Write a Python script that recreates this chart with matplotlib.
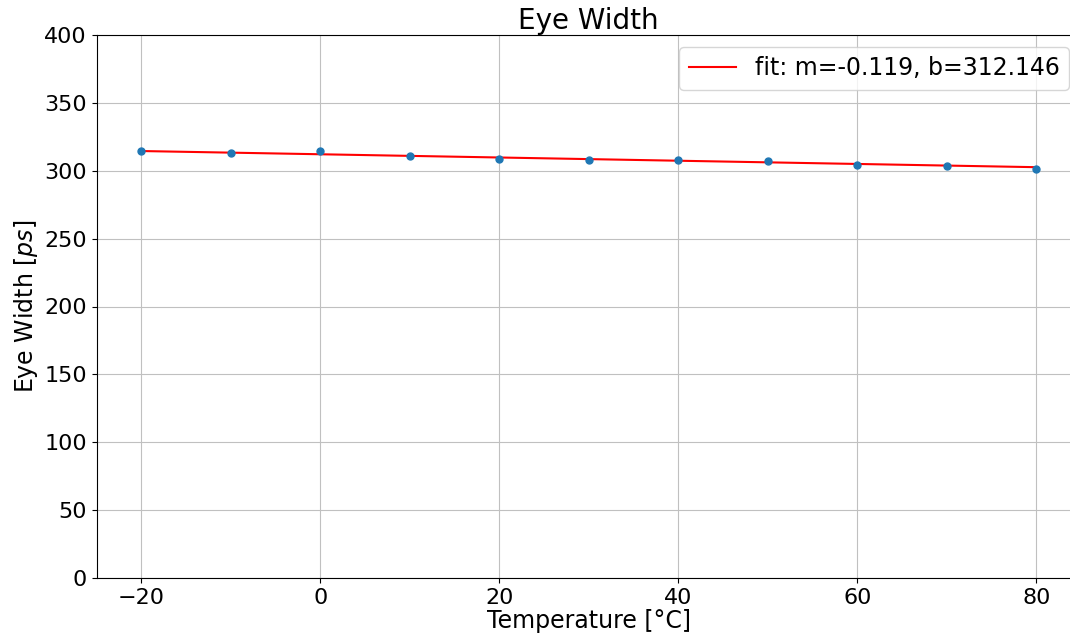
import matplotlib
matplotlib.use("Agg")
import matplotlib.pyplot as plt
import numpy as np

# Data
temperature = [-20, -10, 0, 10, 20, 30, 40, 50, 60, 70, 80]
eye_width = [314.4, 312.9, 314.4, 310.7, 308.3, 307.8, 308.1, 307.1, 304.6, 303.7, 301.5]
fit_m = -0.119
fit_b = 312.146


def main():
    fig = plt.figure(figsize=(10.7, 6.37), dpi=100)
    # axes run a little past the right edge of the picture, as in the original
    ax = fig.add_axes([96.5 / 1070, 1 - 578 / 637, 984.5 / 1070, 543 / 637])

    x = np.array(temperature)
    ax.plot(x, fit_m * x + fit_b, color="red",
            label=f"fit: m={fit_m:.3f}, b={fit_b:.3f}")
    ax.scatter(x, eye_width, s=25, color="#1f77b4", zorder=3)

    ax.set_ylim(0, 400)
    ax.set_xlim(-25, 85)
    ax.grid(True, color="#c0c0c0")
    ax.set_axisbelow(True)

    ax.set_title("Eye Width", fontsize=20, pad=3)
    ax.set_xlabel("Temperature [°C]", fontsize=17, labelpad=1)
    ax.set_ylabel("Eye Width [$ps$]", fontsize=17, labelpad=3)
    ax.tick_params(labelsize=16)
    ax.legend(loc="upper right", fontsize=17)

    fig.savefig("out.png", dpi=100)


if __name__ == "__main__":
    main()
